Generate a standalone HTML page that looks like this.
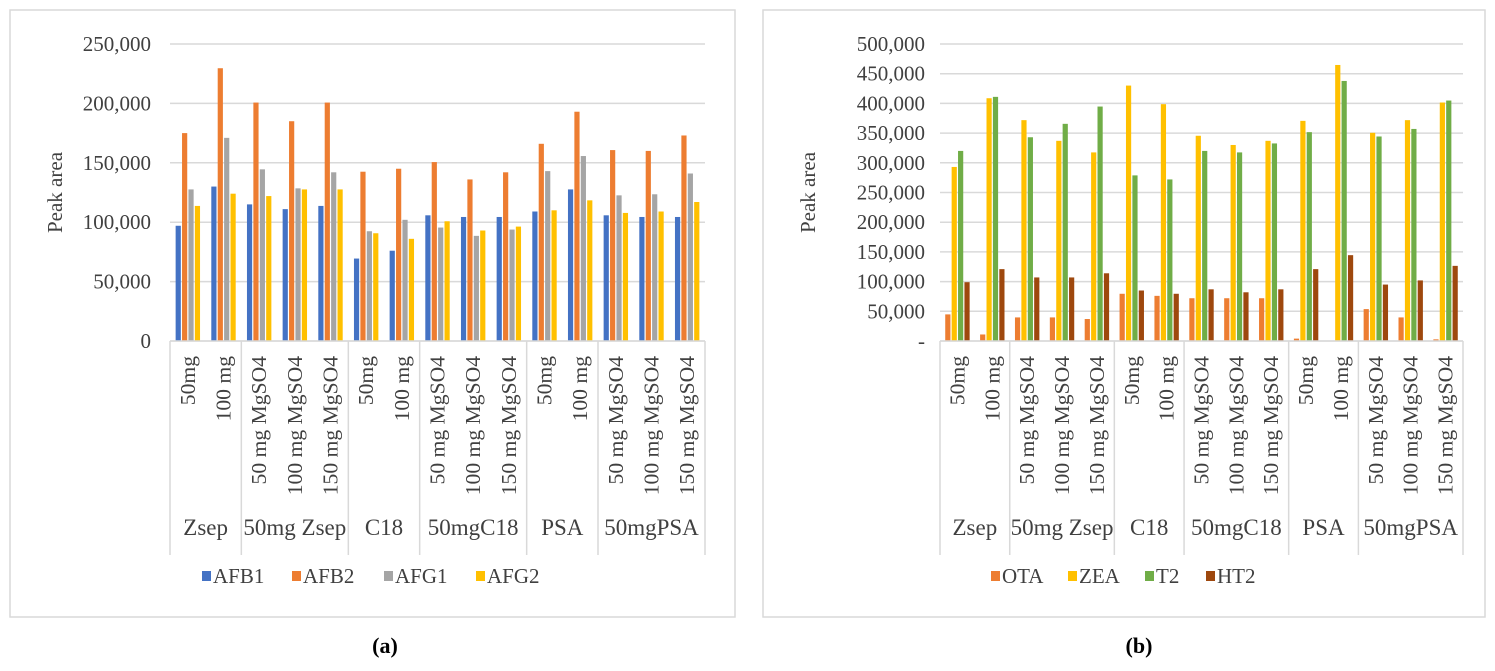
<!DOCTYPE html>
<html><head><meta charset="utf-8"><style>
html,body{margin:0;padding:0;background:#fff;}
svg{display:block;font-family:"Liberation Serif",serif;}
</style></head><body>
<svg id="root" width="1495" height="671" viewBox="0 0 1495 671" xmlns="http://www.w3.org/2000/svg">
<rect x="10" y="10" width="725" height="607" fill="#fff" stroke="#d9d9d9" stroke-width="1.5"/>
<rect x="763" y="10" width="722" height="607" fill="#fff" stroke="#d9d9d9" stroke-width="1.5"/>
<text x="385" y="653" font-size="22" font-weight="bold" text-anchor="middle" fill="#000">(a)</text>
<text x="1139" y="653" font-size="22" font-weight="bold" text-anchor="middle" fill="#000">(b)</text>
<g id="chartA"></g>
<g id="chartB"></g>
</svg>
<script>
const categories = ["50mg","100 mg","50 mg MgSO4","100 mg MgSO4","150 mg MgSO4","50mg","100 mg","50 mg MgSO4","100 mg MgSO4","150 mg MgSO4","50mg","100 mg","50 mg MgSO4","100 mg MgSO4","150 mg MgSO4"];
const groups = ["Zsep","50mg Zsep","C18","50mgC18","PSA","50mgPSA"];
const groupSizes = [2,3,2,3,2,3];
const seriesA = ["AFB1","AFB2","AFG1","AFG2"];
const afb1 = [97000,130000,115000,111000,113700,69400,76000,105800,104400,104400,109000,127600,105800,104400,104400];
const afb2 = [175000,229600,200700,185000,200700,142500,145000,150600,136000,142000,166000,193000,160700,160000,173000];
const afg1 = [127600,171000,144500,128500,142000,92400,102000,95500,88500,93800,143000,155700,122600,123500,141000];
const afg2 = [113700,124000,122000,127600,127600,90700,86000,100800,93000,96300,110000,118400,107800,109000,117000];
const ticksA = [0,50000,100000,150000,200000,250000];
const tickLabelsA = ["0","50,000","100,000","150,000","200,000","250,000"];
const seriesB = ["OTA","ZEA","T2","HT2"];
const ota = [44800,11000,39700,39700,37000,79500,76000,72000,72000,72000,4000,0,53700,39700,2800];
const zea = [293000,408700,371800,337000,317500,430000,398700,345500,330000,337000,370600,464700,350500,371800,401500];
const t2 = [320000,411000,343000,365600,394700,278800,272000,320000,317500,332600,351600,437800,344300,357000,404800];
const ht2 = [99000,121000,107000,107000,114000,85000,79500,87000,82000,87000,121000,144500,95000,102000,126500];
const ticksB = [0,50000,100000,150000,200000,250000,300000,350000,400000,450000,500000];
const tickLabelsB = ["-","50,000","100,000","150,000","200,000","250,000","300,000","350,000","400,000","450,000","500,000"];

const NS="http://www.w3.org/2000/svg";
function mk(tag, attrs, parent){const e=document.createElementNS(NS,tag);for(const k in attrs)e.setAttribute(k,attrs[k]);parent.appendChild(e);return e;}

function drawChart(g, cfg){
  const y = v => cfg.y0 - (v/cfg.max)*(cfg.y0-cfg.y1);
  const cw = (cfg.x1-cfg.x0)/categories.length;
  const x = i => cfg.x0 + i*cw;
  cfg.ticks.forEach((t,i)=>{
    const gl = mk('line',{x1:cfg.x0,x2:cfg.x1,y1:y(t),y2:y(t),stroke:'#d9d9d9','stroke-width':1.5},g);
    
    
    const tl = mk('text',{x:cfg.labX,y:y(t)+7,'font-size':21,'text-anchor':'end',fill:'#404040'},g);
    tl.textContent = cfg.tickLabels[i];
    
    
  });
  const yt = mk('text',{x:0,y:0,'font-size':21,'text-anchor':'middle',fill:'#404040',transform:`translate(${cfg.titleX},${(cfg.y0+cfg.y1)/2}) rotate(-90)`},g);
  yt.textContent='Peak area';
  
  
  const bw=5.2, pitch=6.4, off=(cw-4*pitch)/2+0.6;
  cfg.series.forEach((arr,s)=>{
    arr.forEach((v,i)=>{
      const r = mk('rect',{x:x(i)+off+s*pitch,y:y(v),width:bw,height:Math.max(0,cfg.y0-y(v)),fill:cfg.colors[s]},g);
      
      
    });
  });
  categories.forEach((c,i)=>{
    const t = mk('text',{x:0,y:0,'font-size':21,'text-anchor':'end',fill:'#404040',transform:`translate(${x(i)+cw/2+7},${cfg.y0+15}) rotate(-90) scale(1.03,1)`},g);
    t.textContent=c;
    
    
  });
  let idx=0;
  const bottom = cfg.y0+214;
  const sep0 = mk('line',{x1:x(0),x2:x(0),y1:cfg.y0,y2:bottom,stroke:'#d9d9d9','stroke-width':1.5},g);
  
  
  const ax = mk('line',{x1:cfg.x0,x2:cfg.x1,y1:cfg.y0,y2:cfg.y0,stroke:'#d9d9d9','stroke-width':1.5},g);
  
  
  groups.forEach((gr,k)=>{
    const a=idx, b=idx+groupSizes[k]; idx=b;
    const s = mk('line',{x1:x(b),x2:x(b),y1:cfg.y0,y2:bottom,stroke:'#d9d9d9','stroke-width':1.5},g);
    
    
    const t = mk('text',{x:(x(a)+x(b))/2,y:cfg.y0+194,'font-size':23,'text-anchor':'middle',fill:'#404040'},g);
    t.textContent=gr;
    
    
  });
  cfg.names.forEach((n,s)=>{
    const lx = cfg.legX[s];
    const sq = mk('rect',{x:lx,y:571,width:9,height:10,fill:cfg.colors[s]},g);
    
    
    const t = mk('text',{x:lx+11,y:583,'font-size':21,fill:'#404040'},g);
    t.textContent=n;
    
    
  });
}
drawChart(document.getElementById('chartA'),{x0:170,x1:705,y0:341,y1:44,max:250000,ticks:ticksA,tickLabels:tickLabelsA,labX:151,titleX:62,
  series:[afb1,afb2,afg1,afg2],names:seriesA,colors:['#4472C4','#ED7D31','#A5A5A5','#FFC000'],legX:[202,292,384,476]});
drawChart(document.getElementById('chartB'),{x0:940,x1:1463,y0:341,y1:44,max:500000,ticks:ticksB,tickLabels:tickLabelsB,labX:925,titleX:815,
  series:[ota,zea,t2,ht2],names:seriesB,colors:['#ED7D31','#FFC000','#70AD47','#9E480E'],legX:[991,1068,1145,1206]});
</script>
</body></html>
